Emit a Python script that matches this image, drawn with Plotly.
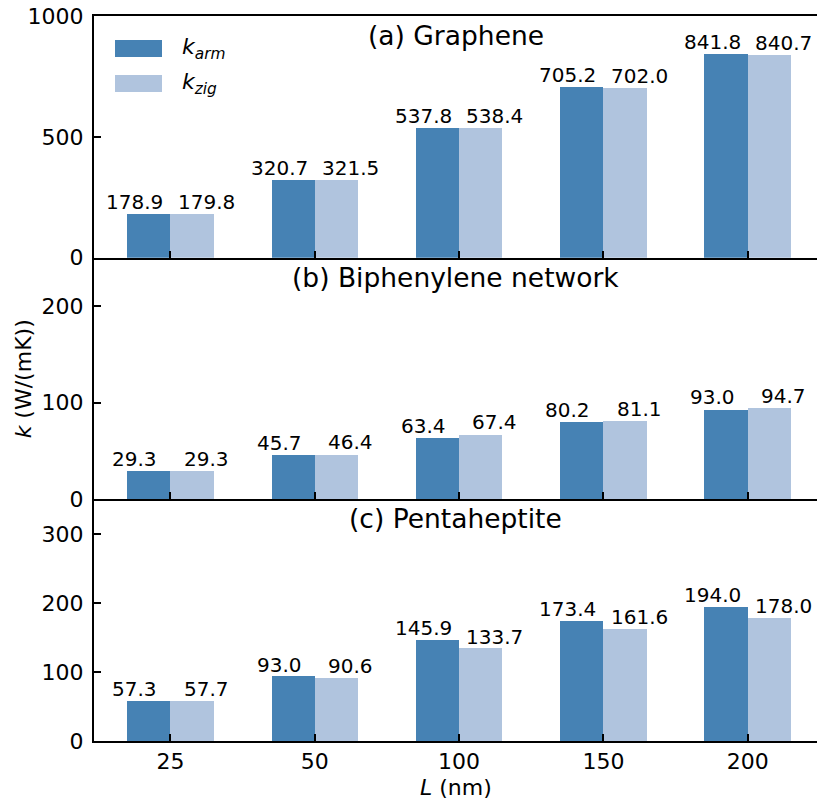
import plotly.graph_objects as go
from plotly.subplots import make_subplots

# ---- data ----
lengths = ["25", "50", "100", "150", "200"]
graphene_arm = [178.9, 320.7, 537.8, 705.2, 841.8]
graphene_zig = [179.8, 321.5, 538.4, 702.0, 840.7]
biphenylene_arm = [29.3, 45.7, 63.4, 80.2, 93.0]
biphenylene_zig = [29.3, 46.4, 67.4, 81.1, 94.7]
pentaheptite_arm = [57.3, 93.0, 145.9, 173.4, 194.0]
pentaheptite_zig = [57.7, 90.6, 133.7, 161.6, 178.0]
panel_titles = ["(a) Graphene", "(b) Biphenylene network", "(c) Pentaheptite"]
y_ranges = [[0, 1000], [0, 250], [0, 350]]
y_ticks = [[0, 500, 1000], [0, 100, 200], [0, 100, 200, 300]]

ARM = "#4682B4"
ZIG = "#B0C4DE"
FONT = "DejaVu Sans"

fig = make_subplots(rows=3, cols=1, shared_xaxes=True, vertical_spacing=0)

xs = list(range(len(lengths)))
panels = [(graphene_arm, graphene_zig), (biphenylene_arm, biphenylene_zig),
          (pentaheptite_arm, pentaheptite_zig)]
bw = 0.3
annotations = []
for r, (arm, zig) in enumerate(panels, start=1):
    fig.add_trace(go.Bar(x=xs, y=arm, width=bw, offset=-bw, marker=dict(color=ARM, line_width=0),
                         showlegend=False), row=r, col=1)
    fig.add_trace(go.Bar(x=xs, y=zig, width=bw, offset=0, marker=dict(color=ZIG, line_width=0),
                         showlegend=False), row=r, col=1)
    xr = "x" if r == 1 else f"x{r}"
    yr = "y" if r == 1 else f"y{r}"
    for i, (a, z) in enumerate(zip(arm, zig)):
        annotations.append(dict(x=i - bw / 2, y=a, xref=xr, yref=yr, text=f"{a:.1f}",
                                showarrow=False, xanchor="center", yanchor="bottom",
                                xshift=-14, yshift=-2, font=dict(size=20, color="black", family=FONT)))
        annotations.append(dict(x=i + bw / 2, y=z, xref=xr, yref=yr, text=f"{z:.1f}",
                                showarrow=False, xanchor="center", yanchor="bottom",
                                xshift=14, yshift=-2, font=dict(size=20, color="black", family=FONT)))
    annotations.append(dict(x=0.5, y=1, xref=f"{xr} domain", yref=f"{yr} domain",
                            text=panel_titles[r - 1], showarrow=False, xanchor="center",
                            yanchor="top", yshift=-2, font=dict(size=26.5, color="black", family=FONT)))

# y-axis label and x-axis label
annotations.append(dict(x=-0.097, y=0.5, xref="paper", yref="paper",
                        text="<i>k</i> (W/(mK))", textangle=-90, showarrow=False,
                        xanchor="center", yanchor="middle",
                        font=dict(size=22, color="black", family=FONT)))
annotations.append(dict(x=0.5, y=0, xref="paper", yref="paper",
                        text="<i>L</i> (nm)", showarrow=False, xanchor="center",
                        yanchor="middle", yshift=-46,
                        font=dict(size=22, color="black", family=FONT)))

# custom legend (patches + labels) in top panel
legend_items = [("<i>k</i><sub><i>arm</i></sub>", ARM), ("<i>k</i><sub><i>zig</i></sub>", ZIG)]
shapes = []
for j, (lab, col) in enumerate(legend_items):
    y0 = 1 - (24 + 35 * j) / 241.7
    shapes.append(dict(type="rect", xref="x domain", yref="y domain",
                       x0=21 / 723, x1=68 / 723, y0=y0 - 17 / 241.7, y1=y0,
                       fillcolor=col, line_width=0))
    annotations.append(dict(x=86 / 723, y=y0 - 8.5 / 241.7, xref="x domain", yref="y domain",
                            text=lab, showarrow=False, xanchor="left", yanchor="middle",
                            font=dict(size=22, color="black", family=FONT)))

fig.update_layout(
    width=817, height=801,
    margin=dict(l=94, r=0, t=16, b=60),
    plot_bgcolor="white", paper_bgcolor="white",
    bargap=0, barmode="overlay",
    font=dict(family=FONT, size=22, color="black"),
    annotations=annotations, shapes=shapes,
    showlegend=False,
)

for r in range(1, 4):
    fig.update_xaxes(row=r, col=1, range=[-0.53, 4.48], tickvals=xs, ticktext=lengths,
                     showticklabels=(r == 3), ticks="inside", ticklen=7, tickwidth=1.6,
                     tickcolor="black", showline=True, linecolor="black", linewidth=2,
                     mirror=(r == 1), showgrid=False, zeroline=False,
                     tickfont=dict(size=22, family=FONT, color="black"))
    fig.update_yaxes(row=r, col=1, range=y_ranges[r - 1], tickvals=y_ticks[r - 1],
                     ticks="inside", ticklen=7, tickwidth=1.6, tickcolor="black",
                     showline=True, linecolor="black", linewidth=2, mirror=False,
                     showgrid=False, zeroline=False, ticklabelstandoff=4,
                     tickfont=dict(size=22, family=FONT, color="black"))

fig.write_html("out.html")
